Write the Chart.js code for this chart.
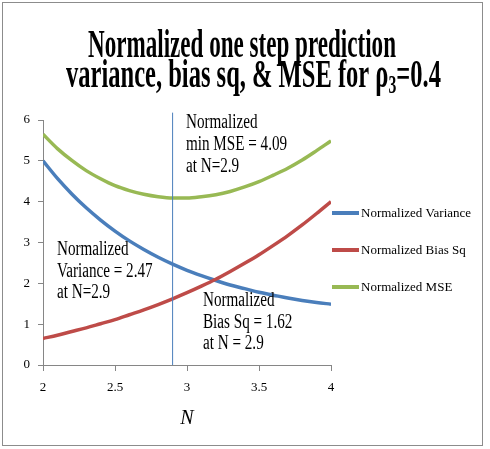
<!DOCTYPE html>
<html>
<head>
<meta charset="utf-8">
<title>Normalized one step prediction variance, bias sq, & MSE</title>
<script src="https://cdn.jsdelivr.net/npm/chart.js@4.4.1/dist/chart.umd.min.js"></script>
<style>
    html, body { margin: 0; padding: 0; background: #fff; }
    #chart { display: block; }
</style>
</head>
<body>
<canvas id="chart" width="490" height="449"></canvas>
<script>
// Values
const nValues = [2.0, 2.1, 2.2, 2.3, 2.4, 2.5, 2.6, 2.7, 2.8, 2.9, 3.0,
                 3.1, 3.2, 3.3, 3.4, 3.5, 3.6, 3.7, 3.8, 3.9, 4.0];
const varianceValues = [5.00, 4.57, 4.19, 3.85, 3.55, 3.28, 3.04, 2.83, 2.64, 2.47, 2.32,
                        2.19, 2.07, 1.96, 1.87, 1.78, 1.71, 1.64, 1.58, 1.53, 1.49];
const biasSqValues = [0.65, 0.73, 0.82, 0.91, 1.01, 1.11, 1.23, 1.35, 1.48, 1.62, 1.77,
                      1.93, 2.10, 2.29, 2.49, 2.70, 2.93, 3.17, 3.43, 3.71, 4.00];
const mseValues = [5.65, 5.30, 5.01, 4.76, 4.56, 4.39, 4.27, 4.18, 4.12, 4.09, 4.09,
                   4.12, 4.17, 4.25, 4.36, 4.49, 4.65, 4.82, 5.02, 5.25, 5.49];
const seriesNames = ['Normalized Variance', 'Normalized Bias Sq', 'Normalized MSE'];

// vertical marker at the MSE minimum
const markerN = [2.9, 2.9];
const markerY = [0, 6.18];

const xTickLabels = ['2', '2.5', '3', '3.5', '4'];
const yTickLabels = ['0', '1', '2', '3', '4', '5', '6'];

const titleLines = ['Normalized one step prediction', 'variance, bias sq, & MSE for '];

const notes = [
    { lines: ['Normalized', 'min MSE = 4.09', 'at N=2.9'], x: 186, y: [128, 150, 172] },
    { lines: ['Normalized', 'Variance = 2.47', 'at N=2.9'], x: 57, y: [255, 277, 298] },
    { lines: ['Normalized', 'Bias Sq = 1.62', 'at N = 2.9'], x: 203, y: [306, 328, 349] }
];

const colors = ['#4a7ebb', '#be4b48', '#98b954'];
const SERIF = '"Liberation Serif", "Times New Roman", serif';
const AXIS_GRAY = '#868686';

const toPoints = (ys) => nValues.map((n, i) => ({ x: n, y: ys[i] }));

function squashText(ctx, text, x, y, font, sx) {
    ctx.save();
    ctx.font = font;
    ctx.translate(x, y);
    ctx.scale(sx, 1);
    ctx.fillText(text, 0, 0);
    ctx.restore();
}

// title, notes, legend and frame drawn on top of the chart
const overlayPlugin = {
    id: 'overlay',
    beforeDraw(chart) {
        const ctx = chart.ctx;
        ctx.save();
        ctx.fillStyle = '#fff';
        ctx.fillRect(0, 0, chart.width, chart.height);
        ctx.strokeStyle = '#8c8c8c';
        ctx.lineWidth = 1;
        ctx.strokeRect(2.5, 2.5, 480, 443);
        ctx.restore();
    },
    afterDraw(chart) {
        const ctx = chart.ctx;
        ctx.save();
        ctx.fillStyle = '#000';
        ctx.textBaseline = 'alphabetic';
        ctx.textAlign = 'left';

        // title line 1
        const big = 'bold 39px ' + SERIF;
        ctx.font = big;
        let w = ctx.measureText(titleLines[0]).width;
        squashText(ctx, titleLines[0], 88, 57, big, 308 / w);

        // title line 2 with rho subscript
        const small = 'bold 25px ' + SERIF;
        const parts = [
            { t: titleLines[1], f: big, dy: 0 },
            { t: '\u03C1', f: big, dy: 0 },
            { t: '3', f: small, dy: 6 },
            { t: '=0.4', f: big, dy: 0 }
        ];
        let total = 0;
        parts.forEach(p => { ctx.font = p.f; p.w = ctx.measureText(p.t).width; total += p.w; });
        const sx = 375 / total;
        let cx = 66;
        parts.forEach(p => {
            squashText(ctx, p.t, cx, 87 + p.dy, p.f, sx);
            cx += p.w * sx;
        });

        // notes next to the marker line
        const noteFont = '20px ' + SERIF;
        ctx.font = noteFont;
        const noteScale = 71.5 / ctx.measureText('Normalized').width;
        notes.forEach(n => {
            n.lines.forEach((line, i) => squashText(ctx, line, n.x, n.y[i], noteFont, noteScale));
        });

        // legend
        const legendY = [213, 250, 287];
        ctx.font = '13px ' + SERIF;
        ctx.textBaseline = 'middle';
        chart.data.datasets.slice(0, 3).forEach((ds, i) => {
            ctx.strokeStyle = ds.borderColor;
            ctx.lineWidth = 4;
            ctx.beginPath();
            ctx.moveTo(332, legendY[i]);
            ctx.lineTo(359, legendY[i]);
            ctx.stroke();
            ctx.fillText(ds.label, 361, legendY[i] + 1);
        });
        ctx.restore();
    }
};

const seriesValues = [varianceValues, biasSqValues, mseValues];
const datasets = seriesValues.map((vals, i) => ({
    label: seriesNames[i],
    data: toPoints(vals),
    borderColor: colors[i],
    backgroundColor: colors[i],
    borderWidth: 3.5,
    pointRadius: 0,
    cubicInterpolationMode: 'monotone',
    order: 3 - i
}));
datasets.push({
    label: 'marker',
    data: markerN.map((n, i) => ({ x: n, y: markerY[i] })),
    borderColor: '#4a7ebb',
    borderWidth: 1,
    pointRadius: 0,
    clip: false,
    order: 0
});

new Chart(document.getElementById('chart'), {
    type: 'line',
    data: { datasets },
    plugins: [overlayPlugin],
    options: {
        responsive: false,
        animation: false,
        devicePixelRatio: 1,
        layout: { padding: { top: 120, left: 0, right: 159, bottom: 17 } },
        plugins: {
            legend: { display: false },
            tooltip: { enabled: false },
            title: { display: false }
        },
        scales: {
            x: {
                type: 'linear',
                min: 2,
                max: 4,
                ticks: {
                    stepSize: 0.5,
                    color: '#000',
                    padding: 9,
                    maxRotation: 0,
                    font: { family: SERIF, size: 13 },
                    callback: (v, i) => xTickLabels[i]
                },
                grid: { drawOnChartArea: false, tickLength: 6, color: AXIS_GRAY },
                border: { color: AXIS_GRAY },
                title: {
                    display: true,
                    text: 'N',
                    color: '#000',
                    font: { family: SERIF, size: 20, style: 'italic' },
                    padding: { top: 0, bottom: 1 }
                },
                afterFit: (s) => { s.height = 67; }
            },
            y: {
                min: 0,
                max: 6,
                ticks: {
                    stepSize: 1,
                    color: '#000',
                    padding: 8,
                    font: { family: SERIF, size: 13 },
                    callback: (v, i) => yTickLabels[i]
                },
                grid: { drawOnChartArea: false, tickLength: 5, color: AXIS_GRAY },
                border: { color: AXIS_GRAY },
                afterFit: (s) => { s.width = 43; }
            }
        }
    }
});
</script>
</body>
</html>
